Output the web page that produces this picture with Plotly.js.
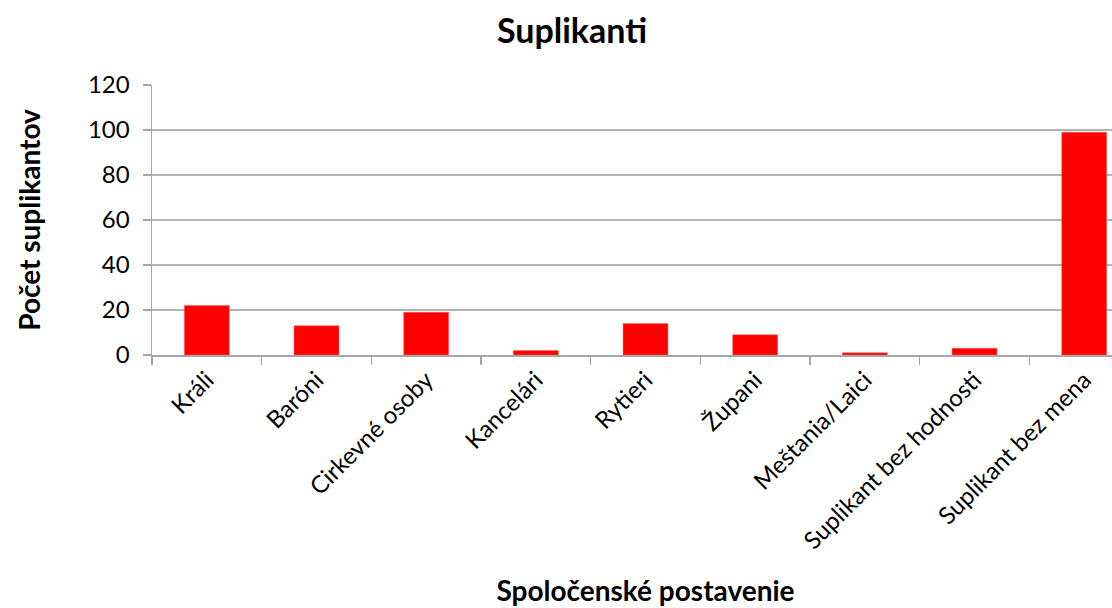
<!DOCTYPE html>
<html>
<head>
<meta charset="utf-8">
<script src="https://cdn.plot.ly/plotly-3.0.1.min.js"></script>
<style>
  html, body { margin: 0; padding: 0; overflow: hidden; background: #fff; }
</style>
</head>
<body>
<div id="chart"></div>
<script>
// hodnoty odčítané z grafu
var kategorie = ['Králi', 'Baróni', 'Cirkevné osoby', 'Kancelári', 'Rytieri',
    'Župani', 'Meštania/Laici', 'Suplikant bez hodnosti', 'Suplikant bez mena'];
var pocty = [22, 13, 19, 2, 14, 9, 1, 3, 99];
var yTicks = [0, 20, 40, 60, 80, 100, 120];

var font = 'Lato, "Open Sans", sans-serif';
var gray = '#a6a6a6';

var trace = {
    x: kategorie,
    y: pocty,
    type: 'bar',
    marker: {color: '#ff0000', line: {color: '#ff6666', width: 0.5}},
    hoverinfo: 'x+y'
};

// graf je širší ako okno, pravá časť sa oreže ako v predlohe
var layout = {
    width: 1144,
    height: 608,
    margin: {l: 152, r: 5, t: 85, b: 253},
    paper_bgcolor: '#fff',
    plot_bgcolor: '#fff',
    showlegend: false,
    bargap: 0.59,
    font: {family: font, size: 24, color: '#000'},
    title: {
        text: '<b>Suplikanti</b>',
        font: {family: font, size: 34, color: '#000'},
        x: 0.5, xref: 'container', xanchor: 'center',
        y: 0.949, yref: 'container', yanchor: 'middle'
    },
    xaxis: {
        type: 'category',
        tickangle: -45,
        ticks: 'outside',
        ticklen: 8,
        tickcolor: gray,
        tickwidth: 1.5,
        tickson: 'boundaries',
        showline: true,
        linecolor: gray,
        linewidth: 1.5,
        showgrid: false,
        tickfont: {family: font, size: 24, color: '#000'},
        title: {
            text: '<b>Spoločenské postavenie</b>',
            font: {family: font, size: 28, color: '#000'},
            standoff: 28
        }
    },
    yaxis: {
        range: [0, 120],
        tickvals: yTicks,
        ticks: 'outside',
        ticklen: 8,
        tickcolor: gray,
        tickwidth: 1.5,
        ticklabelstandoff: 8,
        showline: true,
        linecolor: gray,
        linewidth: 1.5,
        showgrid: true,
        gridcolor: '#b3b3b3',
        gridwidth: 1.5,
        zeroline: false,
        tickfont: {family: font, size: 24, color: '#000'},
        title: {
            text: '<b>Počet suplikantov</b>',
            font: {family: font, size: 28, color: '#000'},
            standoff: 39
        }
    }
};

Plotly.newPlot('chart', [trace], layout, {displayModeBar: false, staticPlot: true});
</script>
</body>
</html>
